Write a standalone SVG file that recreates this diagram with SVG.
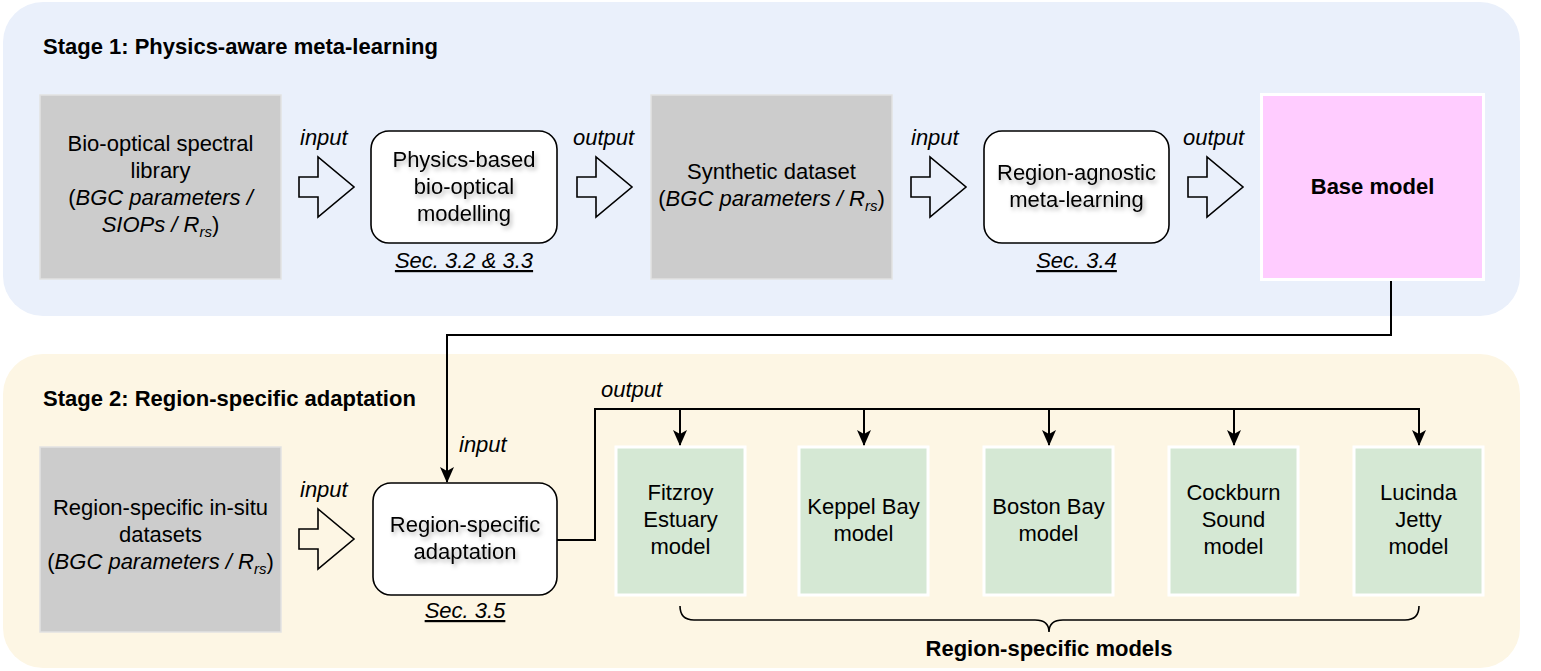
<svg xmlns="http://www.w3.org/2000/svg" width="1541" height="671" viewBox="0 0 1541 671">
  <style>
    text { font-family: "Liberation Sans", Arial, sans-serif; font-size: 22px; fill: #000; }
    .c { text-anchor: middle; }
    .b { font-weight: bold; }
    .i { font-style: italic; }
    .sub { font-size: 15px; font-style: italic; }
    .sec { font-style: italic; text-decoration: underline; text-anchor: middle; }
    .data { fill: #CCCCCC; stroke: #E2E2E2; stroke-width: 1.5; }
    .proc { fill: #FFFFFF; stroke: #000; stroke-width: 1.6; }
    .region { fill: #D5E8D4; stroke: #FFFFFF; stroke-width: 3; }
    .flow { fill: none; stroke: #000; stroke-width: 1.6; stroke-linejoin: miter; }
    .wire { fill: none; stroke: #000; stroke-width: 2; }
    .sh { filter: url(#txtShadow); }
  </style>
  <defs>
    <!-- hollow block arrow, origin at left-middle of the shaft -->
    <path id="blockArrow" d="M0,-10 H19 V-30 L55,0 L19,30 V10 H0 Z"/>
    <marker id="head" viewBox="0 0 16 16" refX="15" refY="8" markerWidth="16" markerHeight="16" markerUnits="userSpaceOnUse" orient="auto">
      <path d="M0,1 L16,8 L0,15 L4,8 Z" fill="#000"/>
    </marker>
    <filter id="txtShadow" x="-20%" y="-50%" width="140%" height="200%">
      <feDropShadow dx="2" dy="3" stdDeviation="2" flood-color="#000" flood-opacity="0.3"/>
    </filter>
  </defs>

  <!-- stage panels -->
  <g id="stage1">
    <rect x="3" y="2" width="1517" height="314" rx="40" fill="#EAF0FB"/>
    <text x="43" y="54" class="b">Stage 1: Physics-aware meta-learning</text>
  </g>
  <g id="stage2">
    <rect x="3" y="354" width="1517" height="314" rx="40" fill="#FDF6E4"/>
    <text x="43" y="406" class="b">Stage 2: Region-specific adaptation</text>
  </g>

  <!-- stage 1 nodes -->
  <g id="spectral-library">
    <rect x="40" y="95" width="241" height="184" class="data"/>
    <text x="160.5" y="151" class="c">Bio-optical spectral</text>
    <text x="160.5" y="178" class="c">library</text>
    <text x="160.5" y="205" class="c">(<tspan class="i">BGC parameters /</tspan></text>
    <text x="160.5" y="232" class="c"><tspan class="i">SIOPs / R</tspan><tspan class="sub" dy="5">rs</tspan><tspan dy="-5">)</tspan></text>
  </g>
  <g id="physics-modelling">
    <rect x="371" y="131" width="186" height="112" rx="18" class="proc"/>
    <g class="sh">
      <text x="464" y="167" class="c">Physics-based</text>
      <text x="464" y="194" class="c">bio-optical</text>
      <text x="464" y="221" class="c">modelling</text>
    </g>
    <text x="464" y="268" class="sec">Sec. 3.2 &amp; 3.3</text>
  </g>
  <g id="synthetic-dataset">
    <rect x="651" y="95" width="241" height="184" class="data"/>
    <text x="771.5" y="179" class="c">Synthetic dataset</text>
    <text x="771.5" y="206" class="c">(<tspan class="i">BGC parameters / R</tspan><tspan class="sub" dy="5">rs</tspan><tspan dy="-5">)</tspan></text>
  </g>
  <g id="meta-learning">
    <rect x="984" y="131" width="185" height="112" rx="18" class="proc"/>
    <g class="sh">
      <text x="1076.5" y="180" class="c">Region-agnostic</text>
      <text x="1076.5" y="207" class="c">meta-learning</text>
    </g>
    <text x="1076.5" y="268" class="sec">Sec. 3.4</text>
  </g>
  <g id="base-model">
    <rect x="1261.5" y="94.5" width="222" height="185" fill="#FFCCFF" stroke="#FFFFFF" stroke-width="3"/>
    <text x="1372.5" y="194" class="c b">Base model</text>
  </g>

  <!-- stage 2 nodes -->
  <g id="insitu-datasets">
    <rect x="40" y="447" width="241" height="185" class="data"/>
    <text x="160.5" y="515" class="c">Region-specific in-situ</text>
    <text x="160.5" y="542" class="c">datasets</text>
    <text x="160.5" y="569" class="c">(<tspan class="i">BGC parameters / R</tspan><tspan class="sub" dy="5">rs</tspan><tspan dy="-5">)</tspan></text>
  </g>
  <g id="adaptation">
    <rect x="373" y="483" width="184" height="112" rx="18" class="proc"/>
    <g class="sh">
      <text x="465" y="532" class="c">Region-specific</text>
      <text x="465" y="559" class="c">adaptation</text>
    </g>
    <text x="465" y="618" class="sec">Sec. 3.5</text>
  </g>
  <g id="fitzroy">
    <rect x="616" y="447" width="129" height="148" class="region"/>
    <text x="680.5" y="500" class="c">Fitzroy</text>
    <text x="680.5" y="527" class="c">Estuary</text>
    <text x="680.5" y="554" class="c">model</text>
  </g>
  <g id="keppel">
    <rect x="799" y="447" width="129" height="148" class="region"/>
    <text x="863.5" y="514" class="c">Keppel Bay</text>
    <text x="863.5" y="541" class="c">model</text>
  </g>
  <g id="boston">
    <rect x="984" y="447" width="129" height="148" class="region"/>
    <text x="1048.5" y="514" class="c">Boston Bay</text>
    <text x="1048.5" y="541" class="c">model</text>
  </g>
  <g id="cockburn">
    <rect x="1169" y="447" width="129" height="148" class="region"/>
    <text x="1233.5" y="500" class="c">Cockburn</text>
    <text x="1233.5" y="527" class="c">Sound</text>
    <text x="1233.5" y="554" class="c">model</text>
  </g>
  <g id="lucinda">
    <rect x="1354" y="447" width="129" height="148" class="region"/>
    <text x="1418.5" y="500" class="c">Lucinda</text>
    <text x="1418.5" y="527" class="c">Jetty</text>
    <text x="1418.5" y="554" class="c">model</text>
  </g>
  <g id="region-models-brace">
    <path d="M680,606 Q680,620 694,620 H1035 Q1049,620 1049,632 Q1049,620 1063,620 H1405 Q1419,620 1419,606" fill="none" stroke="#000" stroke-width="1.6"/>
    <text x="1049" y="656" class="c b">Region-specific models</text>
  </g>

  <!-- connectors -->
  <g id="connectors">
    <use href="#blockArrow" x="299" y="187" class="flow"/>
    <use href="#blockArrow" x="577" y="187" class="flow"/>
    <use href="#blockArrow" x="911" y="187" class="flow"/>
    <use href="#blockArrow" x="1188" y="187" class="flow"/>
    <use href="#blockArrow" x="299" y="539" class="flow"/>

    <text x="300" y="145" class="i">input</text>
    <text x="573" y="145" class="i">output</text>
    <text x="911" y="145" class="i">input</text>
    <text x="1183" y="145" class="i">output</text>
    <text x="300" y="497" class="i">input</text>
    <text x="459" y="452" class="i">input</text>
    <text x="601" y="397" class="i">output</text>

    <path d="M1391,281 V335 H447 V482" class="wire" marker-end="url(#head)"/>
    <path d="M557,540 H595 V409 H1419 V445" class="wire" marker-end="url(#head)"/>
    <path d="M680,409 V445" class="wire" marker-end="url(#head)"/>
    <path d="M864,409 V445" class="wire" marker-end="url(#head)"/>
    <path d="M1049,409 V445" class="wire" marker-end="url(#head)"/>
    <path d="M1234,409 V445" class="wire" marker-end="url(#head)"/>
  </g>
</svg>
